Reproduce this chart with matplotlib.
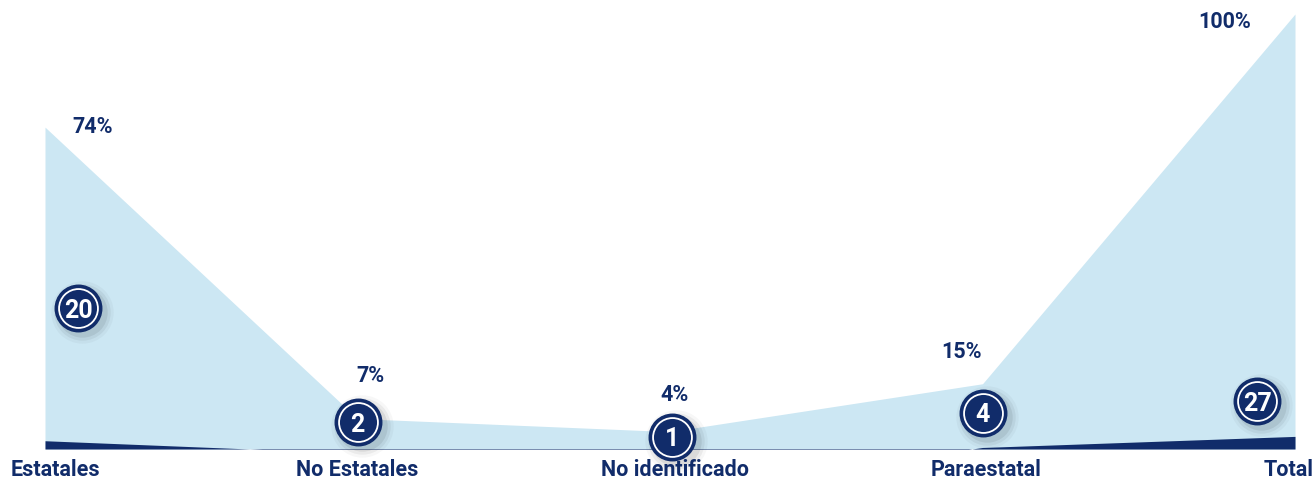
import numpy as np
import matplotlib.pyplot as plt
import matplotlib.transforms as mtransforms

# Data
categories = ['Estatales', 'No Estatales', 'No identificado', 'Paraestatal', 'Total']
counts = [20, 2, 1, 4, 27]
percent = [74, 7, 4, 15, 100]
base = [1.9, -1.0, -10, 0.35, 2.9]

navy = '#112c6a'
light = '#cce7f3'

plt.rcParams['font.family'] = ['Roboto', 'DejaVu Sans']

fig = plt.figure(figsize=(13.15, 4.8), dpi=100)
ax = fig.add_axes([45 / 1315, 1 - 449 / 480, 1250 / 1315, 435 / 480])

x = np.arange(len(categories))
ax.fill_between(x, 0, percent, color=light, lw=0, zorder=1)
ax.fill_between(x, 0, base, color=navy, lw=0, zorder=2)

ax.set_xlim(0, len(categories) - 1)
ax.set_ylim(0, 100)
ax.axis('off')

# percentage labels (offsets in pixels)
pct_off = [(48, 0), (13, 43), (5, 37), (-21, 32), (-70, -8)]
for xi, p, (dx, dy) in zip(x, percent, pct_off):
    ax.annotate(f'{p}%', (xi, p), xytext=(dx * 0.72, dy * 0.72),
                textcoords='offset points', ha='center', va='center',
                fontsize=15.5, fontweight='bold', color=navy, zorder=5)


def shifted(dx, dy):
    return ax.transData + mtransforms.ScaledTranslation(dx / 100, dy / 100, fig.dpi_scale_trans)


# count bubbles
bubble_y = [32.4, 6.2, 2.8, 8.3, 11.0]
bubble_dx = [33, 0, 2, 0, -38]
for xi, c, by, dx in zip(x, counts, bubble_y, bubble_dx):
    # soft shadow
    for r, a in [(31, 0.03), (28, 0.05), (25, 0.07)]:
        ax.plot(xi, by, 'o', ms=r * 1.45, color='black', alpha=a, mec='none',
                transform=shifted(dx + 4, -4), zorder=3, clip_on=False)
    tr = shifted(dx, 0)
    ax.plot(xi, by, 'o', ms=33.5, color=navy, mec=navy, transform=tr, zorder=4, clip_on=False)
    ax.plot(xi, by, 'o', ms=28, color=navy, mec='white', mew=1.3, transform=tr,
            zorder=4, clip_on=False)
    ax.text(xi, by, str(c), transform=tr, ha='center', va='center_baseline',
            fontsize=18, fontweight='bold', color='white', zorder=6)

# category labels
lab_x = [55, 357, 675, 986, 1289]
for xpix, lab in zip(lab_x, categories):
    fig.text(xpix / 1315, 1 - 470 / 480, lab, ha='center', va='center',
             fontsize=15.5, fontweight='bold', color=navy)

fig.savefig('out.png', dpi=100)
